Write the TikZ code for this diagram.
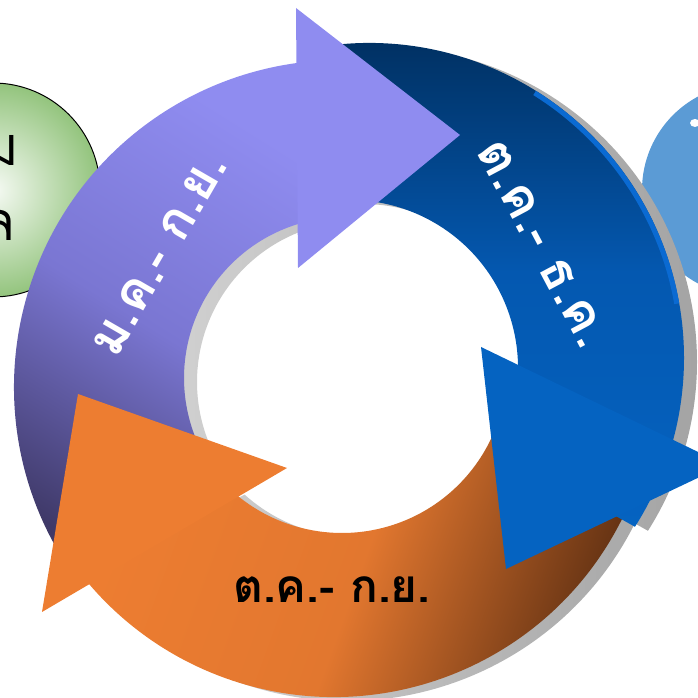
\documentclass[tikz,border=0pt]{standalone}
\usepackage{fontspec}
\newfontfamily\thaifont[Script=Thai]{Loma}
\usepackage{tikz}
\usetikzlibrary{calc}

\definecolor{purpleL}{HTML}{8F8CF0}
\definecolor{purpleM}{HTML}{7A76D2}
\definecolor{purpleD}{HTML}{3F3968}
\definecolor{navyD}{HTML}{002D5B}
\definecolor{blueN}{HTML}{0458B0}
\definecolor{blueM}{HTML}{0563C1}
\definecolor{blueS}{HTML}{0A6AD2}
\definecolor{orangeL}{HTML}{ED7D31}
\definecolor{orangeM}{HTML}{E2772F}
\definecolor{brownD}{HTML}{5E2F12}
\definecolor{greenC}{HTML}{93C47D}
\definecolor{skyC}{HTML}{5B9BD5}
\tikzset{ringtext/.style={font=\thaifont\bfseries\fontsize{46}{52}\selectfont, inner sep=0pt},
         slanttext/.style={font=\thaifont\bfseries\fontsize{52}{58}\selectfont, inner sep=0pt, white},
         sidetext/.style={font=\thaifont\fontsize{54}{60}\selectfont, inner sep=0pt}}

% the three shafts of the cycle
\newcommand{\orangeshaft}{($(Co)+(-22:322)$) arc[start angle=-22, end angle=-143, radius=322]
      -- ($(Coi)+(-132:165)$) arc[start angle=-132, end angle=-22, radius=165] -- cycle}
\newcommand{\purpleshaft}{($(Cp)+(215:327)$) arc[start angle=215, end angle=96.3, radius=327]
      -- ($(Cpi)+(104.4:161)$) arc[start angle=104.4, end angle=215, radius=161] -- cycle}
\newcommand{\blueshaft}{($(Cb)+(100:315)$) arc[start angle=100, end angle=-32.4, radius=315]
      -- ($(Cbi)+(-29:168)$) arc[start angle=-29, end angle=98, radius=168] -- cycle}

\begin{document}
\begin{tikzpicture}[x=1pt, y=1pt]
    \useasboundingbox (0,0) rectangle (697,698);

    % side circles
    \node[draw, line width=1pt, circle, minimum size=214pt, inner color=white!92!greenC, outer color=greenC] (plan) at (-7,508) {};
    \node[circle, fill=skyC, minimum size=212pt] (result) at (748,508) {};
    \fill[white] (695,575) ellipse[x radius=5, y radius=4];
    \node[sidetext, anchor=east] (planA) at (19,548) {ม};
    \node[sidetext, anchor=east] (planB) at (16,472) {ล};

    \coordinate (Cp) at (341,311);
    \coordinate (Cpi) at (345,320);
    \coordinate (Cb) at (369,340);
    \coordinate (Cbi) at (350,330);
    \coordinate (Co) at (334,323);
    \coordinate (Coi) at (342,330);

    % shadow of the ring
    \begin{scope}[transform canvas={shift={(13,-4)}}]
      \shade[left color=black!12, right color=black!36] \orangeshaft \purpleshaft \blueshaft;
    \end{scope}

    % shafts
    \shade[top color=orangeL, bottom color=brownD, middle color=orangeM, shading angle=70] \orangeshaft;
    \shade[top color=purpleL, bottom color=purpleD, middle color=purpleM, shading angle=-32] \purpleshaft;
    \shade[top color=navyD, bottom color=blueM, middle color=blueN] \blueshaft;
    \draw[blueS, line width=5pt] ($(Cb)+(58:312.5)$) arc[start angle=58, end angle=10, radius=312.5];

    % heads
    \fill[purpleL] (296,690) -- (460,563) -- (298,430) -- cycle;
    \fill[blueM] (481,351) -- (725,233) -- (506,129) -- cycle;
    \fill[orangeL] (78,304) -- (287,230) -- (42,86) -- cycle;

    % labels
    \node[slanttext, rotate=60] (janSep) at (160,443) {ม.ค.- ก.ย.};
    \node[slanttext, rotate=-62] (octDec) at (542,454) {ต.ค.- ธ.ค.};
    \node[ringtext] (octSep) at (332,108) {ต.ค.- ก.ย.};
\end{tikzpicture}
\end{document}
